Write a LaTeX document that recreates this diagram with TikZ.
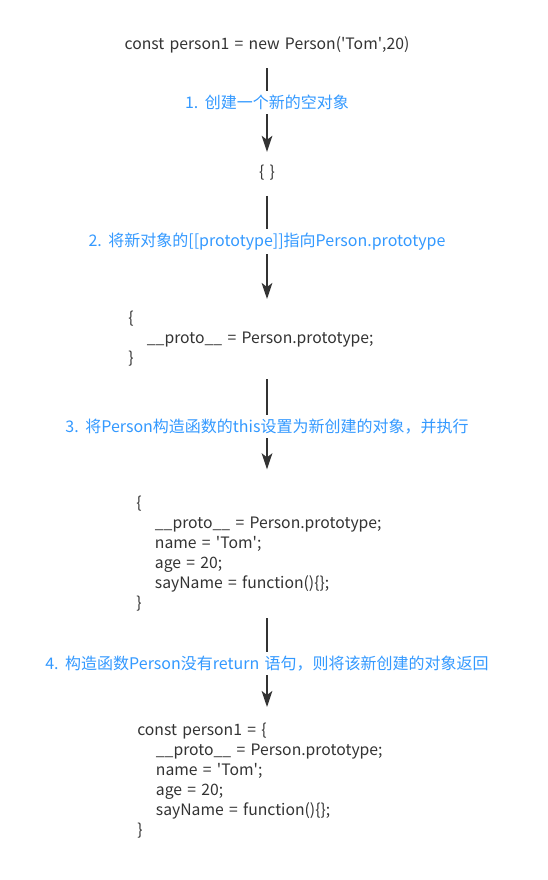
\documentclass[tikz,border=0pt]{standalone}
\usepackage{fontspec}
\setmainfont{Noto Sans CJK SC}[WordSpace=1.5]
\usetikzlibrary{arrows.meta}
\usetikzlibrary{positioning}
\definecolor{texte}{HTML}{333333}
\definecolor{bleu}{HTML}{3399FF}
\tikzstyle{ligne}=[
        text=texte,
        font=\fontsize{11.8}{15}\selectfont,
        inner sep=0pt
]
\tikzstyle{code}=[
        ligne,
        align=left,
        anchor=north west
]
\tikzstyle{etape}=[
        text=bleu,
        font=\fontsize{12}{15}\selectfont,
        fill=white,
        inner sep=3pt
]
\tikzstyle{suite}=[-{Stealth[length=12pt,width=8pt,inset=3pt]},line width=1.5pt,draw=texte]
\newcommand{\ind}{\hspace*{14pt}}
\newcommand{\q}{\textquotesingle}

\begin{document}
\begin{tikzpicture}[x=0.75pt,y=-0.75pt]
\useasboundingbox[fill=white] (0,0) rectangle (548,880);
\node[ligne] (appel) at (267,45) {const person1 = new Person(\q Tom\q,20)};
\node[ligne] (vide) at (267,173) {\{ \}};
\node[code] (proto) at (128,311) {\{\\
\ind\_\_proto\_\_ = Person.prototype;\\
\}};
\node[code] (this) at (136,496) {\{\\
\ind\_\_proto\_\_ = Person.prototype;\\
\ind name = \q Tom\q;\\
\ind age = 20;\\
\ind sayName = function()\{\};\\
\}};
\node[code] (retour) at (137,723) {const person1 = \{\\
\ind\_\_proto\_\_ = Person.prototype;\\
\ind name = \q Tom\q;\\
\ind age = 20;\\
\ind sayName = function()\{\};\\
\}};
%Placementdesflèches
\draw[suite,shorten <=11pt,shorten >=10pt] (appel.south) -- (vide.north) node[etape,pos=0.44]{1. 创建一个新的空对象};
\draw[suite] ([yshift=-11.25pt]vide.south) -- ([yshift=9pt]proto.north -| vide) node[etape,pos=0.44]{2. 将新对象的[[prototype]]指向Person.prototype};
\draw[suite] ([yshift=-9.5pt]proto.south -| vide) -- ([yshift=20pt]this.north -| vide) node[etape,pos=0.52]{3. 将Person构造函数的this设置为新创建的对象，并执行};
\draw[suite] ([yshift=-5pt]this.south -| vide) -- ([yshift=12pt]retour.north -| vide) node[etape,pos=0.51]{4. 构造函数Person没有return 语句，则将该新创建的对象返回};
\end{tikzpicture}
\end{document}
